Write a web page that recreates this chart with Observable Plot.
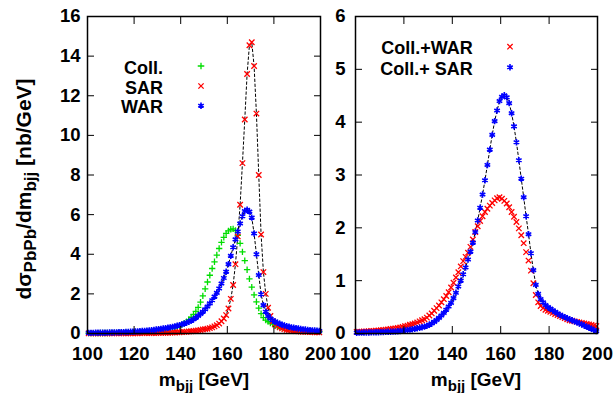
<!DOCTYPE html>
<html><head><meta charset="utf-8">
<script src="https://cdn.jsdelivr.net/npm/d3@7"></script>
<script src="https://cdn.jsdelivr.net/npm/@observablehq/plot@0.6"></script>
<style>
body{margin:0;background:#fff;}
#wrap{position:relative;width:615px;height:393px;overflow:hidden;}
#wrap svg{position:absolute;top:0;overflow:visible;max-width:none;}
</style></head><body><div id="wrap"></div>
<script>
// bin centres of m_bjj [GeV]
const mass = [100.5,101.5,102.5,103.5,104.5,105.5,106.5,107.5,108.5,109.5,
110.5,111.5,112.5,113.5,114.5,115.5,116.5,117.5,118.5,119.5,
120.5,121.5,122.5,123.5,124.5,125.5,126.5,127.5,128.5,129.5,
130.5,131.5,132.5,133.5,134.5,135.5,136.5,137.5,138.5,139.5,
140.5,141.5,142.5,143.5,144.5,145.5,146.5,147.5,148.5,149.5,
150.5,151.5,152.5,153.5,154.5,155.5,156.5,157.5,158.5,159.5,
160.5,161.5,162.5,163.5,164.5,165.5,166.5,167.5,168.5,169.5,
170.5,171.5,172.5,173.5,174.5,175.5,176.5,177.5,178.5,179.5,
180.5,181.5,182.5,183.5,184.5,185.5,186.5,187.5,188.5,189.5,
190.5,191.5,192.5,193.5,194.5,195.5,196.5,197.5,198.5,199.5];

const xTicks = [100,120,140,160,180,200];
const yTicksLeft = [0,2,4,6,8,10,12,14,16];
const yTicksRight = [0,1,2,3,4,5,6];

// left panel
const coll = [0.018,0.019,0.02,0.021,0.022,0.023,0.024,0.025,0.027,0.028,
0.03,0.032,0.034,0.036,0.039,0.042,0.045,0.048,0.051,0.055,
0.06,0.065,0.07,0.076,0.082,0.089,0.097,0.106,0.116,0.127,
0.14,0.155,0.17,0.19,0.21,0.235,0.265,0.3,0.34,0.39,
0.45,0.52,0.6,0.7,0.82,0.96,1.12,1.32,1.58,1.9,
2.25,2.6,2.94,3.28,3.62,3.96,4.29,4.6,4.85,5.05,
5.18,5.26,5.28,5.2,4.95,4.55,4.12,3.68,3.22,2.76,
2.34,1.95,1.6,1.28,1.0,0.8,0.68,0.6,0.53,0.47,
0.42,0.38,0.34,0.31,0.28,0.26,0.24,0.22,0.2,0.185,
0.17,0.16,0.15,0.14,0.13,0.12,0.11,0.1,0.095,0.09];

const sar = [0.005,0.005,0.005,0.006,0.006,0.006,0.007,0.007,0.007,0.008,
0.008,0.009,0.009,0.01,0.01,0.011,0.012,0.012,0.013,0.014,
0.015,0.016,0.017,0.018,0.019,0.021,0.022,0.024,0.026,0.028,
0.03,0.032,0.035,0.038,0.041,0.045,0.049,0.054,0.059,0.065,
0.072,0.08,0.089,0.1,0.112,0.126,0.142,0.16,0.18,0.2,
0.22,0.24,0.27,0.31,0.36,0.42,0.5,0.62,0.76,0.93,
1.26,1.75,2.45,3.5,4.9,6.5,8.6,10.8,13.1,14.55,
14.7,13.5,11.1,8.0,5.0,3.1,2.0,1.3,0.88,0.62,
0.47,0.38,0.31,0.26,0.22,0.19,0.17,0.15,0.135,0.12,
0.11,0.1,0.09,0.085,0.08,0.075,0.07,0.065,0.06,0.055];

const war = [0.03,0.031,0.032,0.034,0.035,0.037,0.039,0.041,0.044,0.047,
0.05,0.053,0.056,0.06,0.064,0.068,0.073,0.079,0.085,0.092,
0.1,0.107,0.115,0.124,0.133,0.143,0.154,0.166,0.18,0.2,
0.22,0.235,0.25,0.27,0.29,0.31,0.335,0.36,0.39,0.425,
0.46,0.5,0.54,0.59,0.65,0.72,0.8,0.89,0.99,1.1,
1.22,1.36,1.52,1.68,1.86,2.05,2.27,2.52,2.8,3.12,
3.5,3.92,4.35,4.75,5.15,5.55,5.92,6.18,6.25,6.15,
5.85,5.05,4.0,2.95,1.98,1.43,1.1,0.88,0.76,0.67,
0.6,0.54,0.49,0.44,0.4,0.37,0.34,0.31,0.29,0.27,
0.25,0.23,0.21,0.2,0.18,0.17,0.16,0.15,0.14,0.13];

// right panel
const collWar = [0.03,0.032,0.034,0.037,0.04,0.043,0.046,0.05,0.054,0.058,
0.062,0.067,0.072,0.078,0.084,0.09,0.097,0.105,0.115,0.125,
0.14,0.15,0.165,0.175,0.19,0.21,0.23,0.25,0.27,0.3,
0.34,0.38,0.43,0.48,0.53,0.59,0.65,0.71,0.78,0.87,
0.96,1.06,1.16,1.27,1.37,1.45,1.53,1.64,1.78,1.92,
2.03,2.13,2.22,2.3,2.36,2.42,2.47,2.52,2.56,2.58,
2.55,2.51,2.46,2.39,2.3,2.21,2.11,1.99,1.86,1.71,
1.54,1.38,1.19,0.95,0.73,0.59,0.52,0.48,0.45,0.43,
0.41,0.39,0.37,0.35,0.33,0.31,0.29,0.27,0.25,0.24,
0.23,0.22,0.21,0.2,0.19,0.18,0.17,0.16,0.15,0.14];

const collSar = [0.015,0.016,0.017,0.018,0.019,0.02,0.021,0.022,0.023,0.025,
0.026,0.028,0.03,0.032,0.034,0.036,0.039,0.042,0.046,0.05,
0.06,0.066,0.073,0.08,0.089,0.098,0.108,0.119,0.13,0.145,
0.165,0.19,0.22,0.255,0.295,0.34,0.39,0.45,0.51,0.58,
0.67,0.77,0.89,1.0,1.12,1.25,1.4,1.55,1.72,1.92,
2.14,2.38,2.63,2.9,3.19,3.48,3.76,4.02,4.22,4.4,
4.48,4.51,4.47,4.36,4.17,3.92,3.62,3.28,2.93,2.58,
2.22,1.88,1.52,1.2,0.92,0.75,0.65,0.59,0.54,0.5,
0.47,0.44,0.41,0.38,0.35,0.33,0.31,0.29,0.27,0.25,
0.23,0.21,0.19,0.17,0.15,0.13,0.11,0.09,0.065,0.045];

const FONT = '"Liberation Sans", Arial, Helvetica, sans-serif';
const GREEN = "#00dd00", RED = "#ff0000", BLUE = "#0000ff";
const pts = vals => mass.map((m, i) => ({m, v: vals[i]}));
const fmt = d3.format("d");

function frameAxes(yTicks, yPad) {
  return [
    Plot.frame({strokeWidth: 1.5}),
    Plot.axisX({ticks: xTicks, anchor: "bottom", tickSize: 7, tickPadding: 6, tickFormat: fmt, label: null}),
    Plot.axisX({ticks: xTicks, anchor: "top", tickSize: 7, tickFormat: () => "", label: null}),
    Plot.axisY({ticks: yTicks, anchor: "left", tickSize: 7, tickPadding: yPad, tickFormat: fmt, label: null}),
    Plot.axisY({ticks: yTicks, anchor: "right", tickSize: 7, tickFormat: () => "", label: null})
  ];
}

function finishAxes(svg) {
  const s = d3.select(svg);
  s.selectAll('g[aria-label="x-axis tick"] path, g[aria-label="y-axis tick"] path')
    .each(function() {
      const d = this.getAttribute("d");
      if (d) this.setAttribute("d", d.replace(/L(-?[\d.]+),(-?[\d.]+)/g, (m, a, b) => `L${-a},${-b}`));
    });
  // enlarge the tick labels that Plot drew
  s.selectAll("text").each(function() {
    this.setAttribute("font-size", "18.5");
    this.style.fontSize = "18.5px";
    this.style.fontWeight = "bold";
  });
  s.selectAll("g").each(function() {
    if (this.getAttribute("font-size")) this.setAttribute("font-size", "18.5");
  });
}

function xTitle(svg, cx) {
  const t = d3.select(svg).append("text").attr("x", cx).attr("y", 386)
    .attr("text-anchor", "middle").style("font-size", "19px").style("font-weight", "bold").attr("fill", "black");
  t.append("tspan").text("m");
  t.append("tspan").attr("dy", 5).style("font-size", "15px").text("bjj");
  t.append("tspan").attr("dy", -5).text(" [GeV]");
}

function legendItem(svg, label, xText, yBase, xSym, ySym, sym, size, color, sw) {
  const s = d3.select(svg);
  s.append("text").attr("x", xText).attr("y", yBase).attr("text-anchor", "end")
    .style("font-size", "18px").style("font-weight", "bold").attr("fill", "black").text(label);
  s.append("path").attr("transform", `translate(${xSym},${ySym})`)
    .attr("d", d3.symbol(sym, size)()).attr("fill", "none").attr("stroke", color).attr("stroke-width", sw);
}

const common = {
  height: 393, marginTop: 16, marginBottom: 60,
  x: {domain: [100, 200]},
  style: {fontFamily: FONT, fontSize: "18.5px", fontWeight: "bold", color: "black", background: "none", overflow: "visible"}
};

// LEFT PANEL
const left = Plot.plot({
  ...common,
  width: 325, marginLeft: 87, marginRight: 5,
  y: {domain: [0, 16]},
  marks: [
    Plot.line(pts(sar), {x: "m", y: "v", stroke: "black", strokeWidth: 1, strokeDasharray: "2.5,2.5"}),
    Plot.line(pts(war), {x: "m", y: "v", stroke: "black", strokeWidth: 1, strokeDasharray: "2.5,2.5"}),
    Plot.dot(pts(coll), {x: "m", y: "v", symbol: "plus", r: 2.2, stroke: GREEN, strokeWidth: 1.3}),
    Plot.dot(pts(sar), {x: "m", y: "v", symbol: "times", r: 2.6, stroke: RED, strokeWidth: 1.3}),
    Plot.dot(pts(war), {x: "m", y: "v", symbol: "asterisk", r: 3, stroke: BLUE, strokeWidth: 1.6}),
    ...frameAxes(yTicksLeft, 0)
  ]
});
left.style.left = "0px";
finishAxes(left);
xTitle(left, 204);
{
  const t = d3.select(left).append("text").attr("transform", "translate(31,189) rotate(-90)")
    .attr("text-anchor", "middle").style("font-size", "21px").style("font-weight", "bold").attr("fill", "black");
  t.append("tspan").text("dσ");
  t.append("tspan").attr("dy", 5).style("font-size", "17px").text("PbPb");
  t.append("tspan").attr("dy", -5).text("/dm");
  t.append("tspan").attr("dy", 5).style("font-size", "17px").text("bjj");
  t.append("tspan").attr("dy", -5).text(" [nb/GeV]");
}
legendItem(left, "Coll.", 163, 74, 201, 66, d3.symbolPlus, 16, GREEN, 1.3);
legendItem(left, "SAR", 163, 93.5, 201, 86, d3.symbolTimes, 20, RED, 1.3);
legendItem(left, "WAR", 163, 113, 201, 105.7, d3.symbolAsterisk, 28, BLUE, 1.6);

// RIGHT PANEL
const right = Plot.plot({
  ...common,
  width: 315, marginLeft: 55, marginRight: 18,
  y: {domain: [0, 6]},
  marks: [
    Plot.line(pts(collSar), {x: "m", y: "v", stroke: "black", strokeWidth: 1, strokeDasharray: "2.5,2.5"}),
    Plot.dot(pts(collWar), {x: "m", y: "v", symbol: "times", r: 2.6, stroke: RED, strokeWidth: 1.3}),
    Plot.dot(pts(collSar), {x: "m", y: "v", symbol: "asterisk", r: 3, stroke: BLUE, strokeWidth: 1.6}),
    ...frameAxes(yTicksRight, 3)
  ]
});
right.style.left = "300px";
finishAxes(right);
xTitle(right, 176);
legendItem(right, "Coll.+WAR", 172.7, 54, 210, 46.7, d3.symbolTimes, 20, RED, 1.3);
legendItem(right, "Coll.+ SAR", 172.7, 75, 210, 67.3, d3.symbolAsterisk, 28, BLUE, 1.6);

document.getElementById("wrap").append(left, right);
</script>
</body></html>
